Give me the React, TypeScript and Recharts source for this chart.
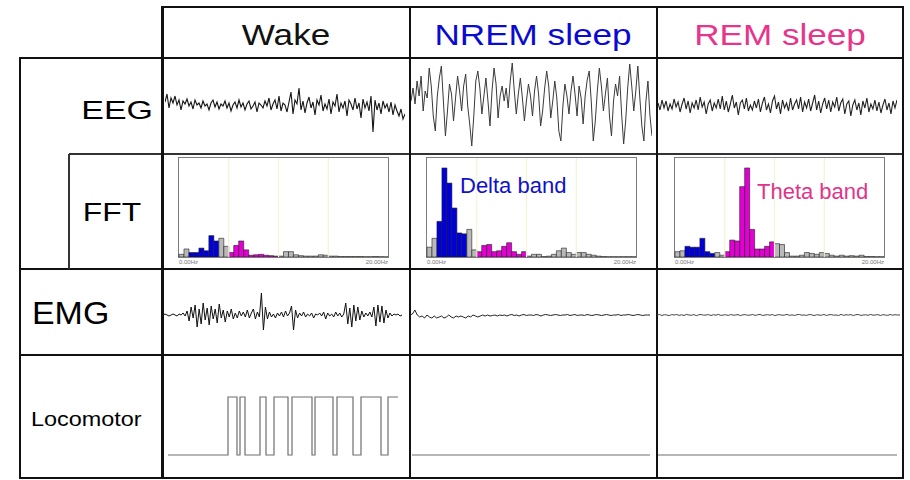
import React from "react"
import { LineChart, Line, BarChart, Bar, Cell, XAxis, YAxis, ReferenceLine } from "recharts"

const FONT = '"Liberation Sans", Arial, Helvetica, sans-serif'

const stages = ["Wake", "NREM sleep", "REM sleep"]
const stageColors = ["#111111", "#0a0ad2", "#e8358c"]
const rowLabels = ["EEG", "FFT", "EMG", "Locomotor"]

// EEG traces (arbitrary units, + is up)
const eegWake = [
  4, 12, -2, 8, 3, 10, 1, 6, -4, 5, 2,
  7, 0, 4, -3, 6, 1, 3, -2, 5, 0,
  2, -4, 3, 6, -1, 4, -3, 2, 0, 5,
  -2, 3, -5, 1, 4, -2, 6, -1, 3, -4,
  2, 5, -3, 0, 4, -6, 3, 1, -2, 5,
  0, 8, -4, 2, 6, -3, 10, -5, 3, 1,
  -6, 4, 14, -8, 6, 2, 18, -4, 5, -7,
  3, 9, -2, 4, -9, 6, 1, 11, -5, 2,
  -3, 7, -8, 4, 0, 12, -6, 3, -2, 5,
  -10, 6, 2, -4, 8, -3, 3, -12, 7, -2,
  4, -5, 10, -26, 6, -4, 3, -8, 5, -2,
  2, -6, 4, -9, 1, -5, -10, -3, -13, -8,
]

const eegNrem = [
  5, 18, 2, 25, 10, 30, -5, 15, 8, 38,
  20, -10, -25, 10, 28, 40, 5, -30, -5, 22,
  12, -15, 8, 30, 15, -5, 20, 32, 0, -18,
  -40, -10, 25, 35, 18, -8, 10, 28, 5, -20,
  15, 38, 22, -12, 10, 20, 5, 18, -2, 25,
  43, 15, -8, 12, 28, 8, -15, 5, 22, 10,
  -10, 15, 30, 12, -20, -5, 18, 35, 20, -12,
  5, 25, 8, -25, -35, 0, 22, 10, -8, 15,
  30, 12, -10, 20, 8, -18, 10, 26, 35, 5,
  -35, -15, 15, 38, 20, -5, 12, 28, -10, -30,
  5, 22, 10, 30, -8, -38, -15, 18, 42, 20,
  -5, 15, 40, 8, -20, -35, 5, 25, -10, -30,
]

const eegRem = [
  3, -4, 6, -2, 5, -5, 2, -3, 7, -1,
  4, -6, 2, 8, -3, 5, -7, 3, -2, 6,
  -4, 9, -1, 4, -8, 2, 6, -5, 3, -2,
  7, -3, 10, -4, 5, -6, 2, 11, -2, 4,
  -9, 3, 6, -3, 8, -5, 1, -4, 5, -2,
  7, -6, 3, 9, -4, 2, -7, 5, 10, -3,
  4, -8, 6, -2, 3, -5, 8, -4, 2, 6,
  -3, 9, -6, 4, -2, 7, -5, 3, 11, -4,
  5, -7, 2, 8, -3, 6, -6, 4, -1, 9,
  -5, 3, 7, -8, 2, 5, -10, 1, 6, -4,
  3, -9, 5, -2, 8, -6, 2, -3, 6, -5,
  4, -7, 1, 7, -4, 3, -8, 5, -2, 6,
]

// EMG traces
const emgWake = [
  0, 1, 0, -1, 0, 1, 0, -1, 1, 0, 2, -1,
  4, -6, 8, -3, 10, -12, 6, -9, 12, -5, 7, -10,
  9, -4, 6, -8, 11, -3, 5, -7, 4, -2, 6, -4,
  2, -3, 4, -1, 3, -2, 5, -3, 2, 6, -4, 3, -2,
  22, -15, 8, -4,
  3, -2, 1, -3, 2, -1, 3, -2, 4, -1, 2,
  9, -15, 5, -3,
  2, -1, 3, -2, 1, -1, 2, -3, 1, 0, 2, -1, 3, -4, 2, -1, 1, -2, 3, -1, 2, -2, 1,
  12, -9, 7, -12, 10, -6, 8, -5, 4,
  -2, 2, -1, 3, -2,
  8, -11, 10, -7, 9, -8, 5, -3,
  2, -1, 1, 0, 1, -1, 0,
]

const emgNrem = [
  0, 1, 5, 0, -2, -1, -3, 0, -2, -3,
  -1, -3, -2, -1, -3, -2, 0, -2, -3, -1,
  -2, -1, -2, -3, -1, -2, 0, -1, -2, -1,
  0, -1, 0, -1, -0.5, 0, -1, 0, -0.5, 0,
  -1, 0, 0.5, -0.5, 0, -1, 0, 0.5, -0.5, 0,
  0, -0.5, 0.5, 0, -1, 0, 0.5, 0, -0.5, 0,
  0.5, 0, -0.5, 0, 0, 0.5, -0.5, 0, 0.5, -0.5,
  0, 0, -0.5, 0.5, 0, -0.5, 0, 0.5, 0, -0.5,
  0, 0.5, 0, -0.5, 0, 0, 0.5, -0.5, 0, 0,
  0.5, 0, -0.5, 0, 0.5, 0, -0.5, 0, 0, 0,
]

const emgRem = [
  0, 0.5, -0.5, 0.3, 0, -0.6, 0.4, 0, 0.5, -0.4,
  0.2, -0.5, 0.6, 0, -0.3, 0.4, -0.6, 0.2, 0.5, -0.2,
  0, 0.4, -0.5, 0.3, -0.2, 0.6, -0.4, 0, 0.3, -0.5,
  0.5, -0.2, 0, 0.4, -0.6, 0.2, 0.3, -0.3, 0, 0.5,
  -0.4, 0.2, 0.6, -0.5, 0, 0.3, -0.2, 0.5, -0.6, 0.1,
  0.4, -0.3, 0, 0.6, -0.4, 0.2, -0.5, 0.3, 0.5, -0.2,
  0, -0.4, 0.5, 0.2, -0.6, 0.3, 0, -0.3, 0.6, -0.5,
  0.2, 0.4, -0.2, 0, -0.5, 0.6, -0.3, 0.2, 0, 0.4,
  -0.6, 0.3, 0.5, -0.4, 0, 0.2, -0.3, 0.6, -0.2, 0,
  0.4, -0.5, 0.3, 0, -0.4, 0.5, -0.2, 0.3, 0, 0,
]

// FFT power spectra, 0.5 Hz bins
const fftHz = [
  0, 0.5, 1, 1.5, 2, 2.5, 3, 3.5, 4, 4.5,
  5, 5.5, 6, 6.5, 7, 7.5, 8, 8.5, 9, 9.5,
  10, 10.5, 11, 11.5, 12, 12.5, 13, 13.5, 14, 14.5,
  15, 15.5, 16, 16.5, 17, 17.5, 18, 18.5, 19, 19.5,
  20, 20.5,
]
const fftWake = [
  0.03, 0.09, 0.05, 0.05, 0.10, 0.07, 0.24, 0.18, 0.21, 0.12,
  0.05, 0.13, 0.18, 0.08, 0.02, 0.025, 0.03, 0.02, 0.015, 0.01,
  0.01, 0.06, 0.06, 0.025, 0.015, 0.01, 0.01, 0.01, 0.025, 0.02,
  0.01, 0.01, 0.005, 0.005, 0.005, 0.005, 0.005, 0.003, 0.003, 0.005,
  0.003, 0.002,
]
const fftNrem = [
  0.11, 0.21, 0.40, 1.00, 0.83, 0.55, 0.27, 0.26, 0.31, 0.08,
  0.06, 0.13, 0.14, 0.06, 0.07, 0.12, 0.16, 0.06, 0.03, 0.06,
  0.01, 0.03, 0.03, 0.005, 0.01, 0.03, 0.07, 0.10, 0.05, 0.03,
  0.05, 0.05, 0.03, 0.02, 0.01, 0.005, 0.003, 0.003, 0.003, 0.003,
  0.003, 0.003,
]
const fftRem = [
  0.06, 0.07, 0.12, 0.11, 0.11, 0.21, 0.06, 0.04, 0.05, 0.02,
  0.06, 0.19, 0.18, 0.79, 1.00, 0.31, 0.09, 0.09, 0.12, 0.17,
  0.15, 0.14, 0.05, 0.01, 0.01, 0.02, 0.05, 0.04, 0.03, 0.05,
  0.04, 0.02, 0.01, 0.02, 0.01, 0.015, 0.01, 0.02, 0.005, 0.005,
  0.003, 0.003,
]
const deltaBand = [1, 4]
const thetaBand = [5, 10]
const fftTicks = [0, 0.5, 1]
const fftGridHz = [5, 10, 15]
const fftAxisLabels = ["0.00Hz", "20.00Hz"]

// locomotor activity: time / on-off
const locoWakeT = [0, 60, 69, 72, 77, 92, 98, 106, 120, 124, 144, 147, 165, 169, 185, 193, 213, 220, 230]
const locoWakeV = [0, 1, 0, 1, 0, 1, 0, 1, 0, 1, 0, 1, 0, 1, 0, 1, 0, 1, 1]
const locoNremT = [0, 40, 80, 120, 160, 200, 238]
const locoNremV = [0, 0, 0, 0, 0, 0, 0]
const locoRemT = [0, 40, 80, 120, 160, 200, 239]
const locoRemV = [0, 0, 0, 0, 0, 0, 0]

const FFT_TOP = 158
const FFT_H = 99
const FFT_W = 209

function bandColor(hz: number) {
  if (hz >= deltaBand[0] && hz < deltaBand[1]) return "#0000dc"
  if (hz >= thetaBand[0] && hz < thetaBand[1]) return "#e400d4"
  return "#b9b9b9"
}

function Txt({ x, y, size, color = "#000", anchor = "middle", sx = 1, children }: any) {
  const tx = anchor === "middle" ? "-50%" : anchor === "end" ? "-100%" : "0px"
  const origin = anchor === "middle" ? "center" : anchor === "end" ? "right" : "left"
  return (
    <div
      style={{
        position: "absolute",
        left: x,
        top: y,
        fontSize: size,
        fontFamily: FONT,
        color,
        lineHeight: 1,
        whiteSpace: "nowrap",
        transform: `translate(${tx}, -50%) scaleX(${sx})`,
        transformOrigin: `${origin} center`,
      }}
    >
      {children}
    </div>
  )
}

function Rule({ x1, y1, x2, y2, w = 2, color = "#111" }: any) {
  const horiz = y1 === y2
  return (
    <div
      style={{
        position: "absolute",
        left: horiz ? x1 : x1 - w / 2,
        top: horiz ? y1 - w / 2 : y1,
        width: horiz ? x2 - x1 : w,
        height: horiz ? w : y2 - y1,
        background: color,
      }}
    />
  )
}

function Trace({ values, left, top, width, height, domain, stroke = "#1a1a1a", strokeWidth = 1 }: any) {
  const data = values.map((v: number, i: number) => ({ i, v }))
  return (
    <div style={{ position: "absolute", left, top, width, height }}>
      <LineChart width={width} height={height} data={data} margin={{ top: 0, right: 0, bottom: 0, left: 0 }}>
        <XAxis dataKey="i" hide />
        <YAxis hide domain={domain} allowDataOverflow />
        <Line
          type="linear"
          dataKey="v"
          stroke={stroke}
          strokeWidth={strokeWidth}
          dot={false}
          isAnimationActive={false}
        />
      </LineChart>
    </div>
  )
}

function Spectrum({ values, plotLeft }: any) {
  const data = fftHz.map((hz, i) => ({ hz, p: values[i] }))
  return (
    <>
      <div
        style={{
          position: "absolute",
          left: plotLeft - 1,
          top: FFT_TOP - 1,
          width: FFT_W,
          height: FFT_H,
          border: "1px solid #7c7c7c",
        }}
      />
      <div style={{ position: "absolute", left: plotLeft - 8, top: FFT_TOP }}>
        <BarChart
          width={FFT_W + 8}
          height={FFT_H}
          data={data}
          margin={{ top: 0, right: 0, bottom: 0, left: 0 }}
          barCategoryGap={0}
          barGap={0}
        >
          <XAxis dataKey="hz" hide />
          <XAxis xAxisId="hz" dataKey="hz" type="number" domain={[0, 21]} hide />
          <YAxis
            width={8}
            domain={[0, 1.112]}
            ticks={fftTicks}
            tick={false}
            tickSize={4}
            axisLine={false}
            tickLine={{ stroke: "#666" }}
            allowDataOverflow
          />
          {fftGridHz.map((hz) => (
            <ReferenceLine key={hz} xAxisId="hz" x={hz} stroke="#f5f3d2" strokeWidth={1.2} />
          ))}
          <Bar dataKey="p" stroke="#1e1e1e" strokeWidth={0.6} isAnimationActive={false}>
            {data.map((d) => (
              <Cell key={d.hz} fill={bandColor(d.hz)} />
            ))}
          </Bar>
        </BarChart>
      </div>
      <Txt x={plotLeft} y={FFT_TOP + FFT_H + 5} size={6} color="#777" anchor="start">
        {fftAxisLabels[0]}
      </Txt>
      <Txt x={plotLeft + FFT_W} y={FFT_TOP + FFT_H + 5} size={6} color="#777" anchor="end">
        {fftAxisLabels[1]}
      </Txt>
    </>
  )
}

function Locomotor({ t, v, left, width }: any) {
  const data = t.map((x: number, i: number) => ({ t: x, v: v[i] }))
  return (
    <div style={{ position: "absolute", left, top: 392 }}>
      <LineChart width={width} height={68} data={data} margin={{ top: 5, right: 0, bottom: 5, left: 0 }}>
        <XAxis dataKey="t" type="number" domain={[0, width]} hide />
        <YAxis hide domain={[0, 1]} />
        <Line
          type="stepAfter"
          dataKey="v"
          stroke="#6f6f6f"
          strokeWidth={1.2}
          dot={false}
          isAnimationActive={false}
        />
      </LineChart>
    </div>
  )
}

export default function App() {
  const colCenters = [286, 533, 780]
  return (
    <div
      style={{
        position: "absolute",
        left: 0,
        top: 0,
        width: 910,
        height: 480,
        background: "#fff",
        fontFamily: FONT,
        overflow: "hidden",
      }}
    >
      {/* table grid */}
      <Rule x1={161} y1={7} x2={904} y2={7} />
      <Rule x1={19} y1={58} x2={904} y2={58} />
      <Rule x1={69} y1={154} x2={904} y2={154} w={1.5} color="#333" />
      <Rule x1={19} y1={269} x2={904} y2={269} />
      <Rule x1={19} y1={355} x2={904} y2={355} />
      <Rule x1={19} y1={478} x2={904} y2={478} />
      <Rule x1={20} y1={57} x2={20} y2={479} />
      <Rule x1={69} y1={154} x2={69} y2={269} w={1.5} color="#333" />
      <Rule x1={162} y1={6} x2={162} y2={479} w={3} />
      <Rule x1={410} y1={6} x2={410} y2={479} w={1.8} />
      <Rule x1={657} y1={6} x2={657} y2={479} w={1.8} />
      <Rule x1={903} y1={6} x2={903} y2={479} />

      {/* column headers */}
      {stages.map((s, i) => (
        <Txt key={s} x={colCenters[i]} y={35} size={30} color={stageColors[i]} sx={1.17}>
          {s}
        </Txt>
      ))}

      {/* row labels */}
      <Txt x={153} y={110} size={26.5} anchor="end" sx={1.28}>
        {rowLabels[0]}
      </Txt>
      <Txt x={112} y={212} size={26.5} sx={1.2}>
        {rowLabels[1]}
      </Txt>
      <Txt x={32} y={313} size={32} anchor="start" sx={1.06}>
        {rowLabels[2]}
      </Txt>
      <Txt x={31} y={420} size={19.5} anchor="start" sx={1.2}>
        {rowLabels[3]}
      </Txt>

      {/* EEG */}
      <Trace values={eegWake} left={165} top={58} width={240} height={96} domain={[-48, 48]} stroke="#151515" strokeWidth={1.1} />
      <Trace values={eegNrem} left={411} top={58} width={241} height={96} domain={[-48, 48]} stroke="#3a3a3a" />
      <Trace values={eegRem} left={658} top={58} width={239} height={96} domain={[-48, 48]} stroke="#222" strokeWidth={1.1} />

      {/* FFT */}
      <Spectrum values={fftWake} plotLeft={179} />
      <Spectrum values={fftNrem} plotLeft={427} />
      <Spectrum values={fftRem} plotLeft={675} />
      <Txt x={460} y={186} size={22} color="#1010cc" anchor="start">
        Delta band
      </Txt>
      <Txt x={757} y={192} size={22} color="#e0338c" anchor="start">
        Theta band
      </Txt>

      {/* EMG */}
      <Trace values={emgWake} left={163} top={270} width={239} height={84} domain={[-39, 45]} stroke="#111" />
      <Trace values={emgNrem} left={410} top={270} width={240} height={84} domain={[-39, 45]} stroke="#222" />
      <Trace values={emgRem} left={657} top={270} width={243} height={84} domain={[-39, 45]} stroke="#444" />

      {/* Locomotor */}
      <Locomotor t={locoWakeT} v={locoWakeV} left={168} width={230} />
      <Locomotor t={locoNremT} v={locoNremV} left={412} width={238} />
      <Locomotor t={locoRemT} v={locoRemV} left={658} width={239} />
    </div>
  )
}
